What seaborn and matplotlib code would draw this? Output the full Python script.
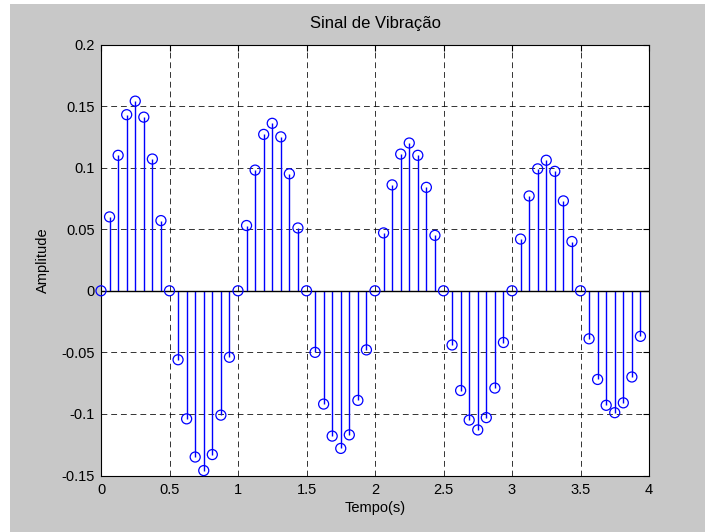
import numpy as np
import pandas as pd
import matplotlib
matplotlib.use("Agg")
import matplotlib.pyplot as plt
from matplotlib.patches import Rectangle
import seaborn as sns

# Sampled vibration signal (16 samples per second, 4 s)
tempo = [i / 16 for i in range(64)]
amplitude = [
    0.0, 0.060, 0.110, 0.143, 0.154, 0.141, 0.107, 0.057,
    0.0, -0.056, -0.104, -0.135, -0.146, -0.133, -0.101, -0.054,
    0.0, 0.053, 0.098, 0.127, 0.136, 0.125, 0.095, 0.051,
    0.0, -0.050, -0.092, -0.118, -0.128, -0.117, -0.089, -0.048,
    0.0, 0.047, 0.086, 0.111, 0.120, 0.110, 0.084, 0.045,
    0.0, -0.044, -0.081, -0.105, -0.113, -0.103, -0.079, -0.042,
    0.0, 0.042, 0.077, 0.099, 0.106, 0.097, 0.073, 0.040,
    0.0, -0.039, -0.072, -0.093, -0.099, -0.091, -0.070, -0.037,
]
xticks = [0, 0.5, 1, 1.5, 2, 2.5, 3, 3.5, 4]
xtick_labels = ["0", "0.5", "1", "1.5", "2", "2.5", "3", "3.5", "4"]
yticks = [-0.15, -0.1, -0.05, 0, 0.05, 0.1, 0.15, 0.2]
ytick_labels = ["-0.15", "-0.1", "-0.05", "0", "0.05", "0.1", "0.15", "0.2"]

df = pd.DataFrame({"Tempo": tempo, "Amplitude": amplitude})

sns.set_theme(style="white")
plt.rcParams["font.family"] = ["Liberation Sans", "DejaVu Sans"]

W, H = 705, 532
fig = plt.figure(figsize=(W / 100, H / 100), dpi=100, facecolor="white")
# gray window area
fig.patches.append(Rectangle((10 / W, 0), 1 - 10 / W, 1 - 4 / H,
                             transform=fig.transFigure, facecolor="#c8c8c8",
                             edgecolor="none", zorder=-10))

ax = fig.add_axes([101 / W, (H - 475.5) / H, 548 / W, 431 / H])
ax.set_facecolor("white")

blue = "#0000ff"
# stems
ax.vlines(df["Tempo"], 0, df["Amplitude"], colors=blue, linewidth=1.0, zorder=3)
# baseline
ax.axhline(0, color="black", linewidth=1.0, zorder=3.5)
# markers
sns.scatterplot(data=df, x="Tempo", y="Amplitude", ax=ax, marker="o", s=52,
                zorder=4, legend=False, clip_on=False)
coll = ax.collections[-1]
coll.set_facecolor("none")
coll.set_edgecolor(blue)
coll.set_linewidth(0.9)

ax.set_xlim(0, 4)
ax.set_ylim(-0.15, 0.2)
ax.set_xticks(xticks)
ax.set_xticklabels(xtick_labels)
ax.set_yticks(yticks)
ax.set_yticklabels(ytick_labels)

ax.grid(True, color="black", linestyle=(0, (6, 4)), linewidth=0.7, alpha=0.8)
ax.set_axisbelow(True)

for s in ax.spines.values():
    s.set_visible(True)
    s.set_color("black")
    s.set_linewidth(0.8)

ax.tick_params(direction="in", length=4, width=0.8, color="black",
               top=True, right=True, labelsize=10.5, labelcolor="black")
ax.tick_params(axis="x", pad=5.5)
ax.tick_params(axis="y", pad=4.5)

ax.set_title("Sinal de Vibração", fontsize=12, color="black", pad=12)
ax.set_xlabel("Tempo(s)", fontsize=10.5, color="black", labelpad=3)
ax.set_ylabel("Amplitude", fontsize=10.5, color="black", labelpad=8)

fig.savefig("out.png", dpi=100, facecolor=fig.get_facecolor())
